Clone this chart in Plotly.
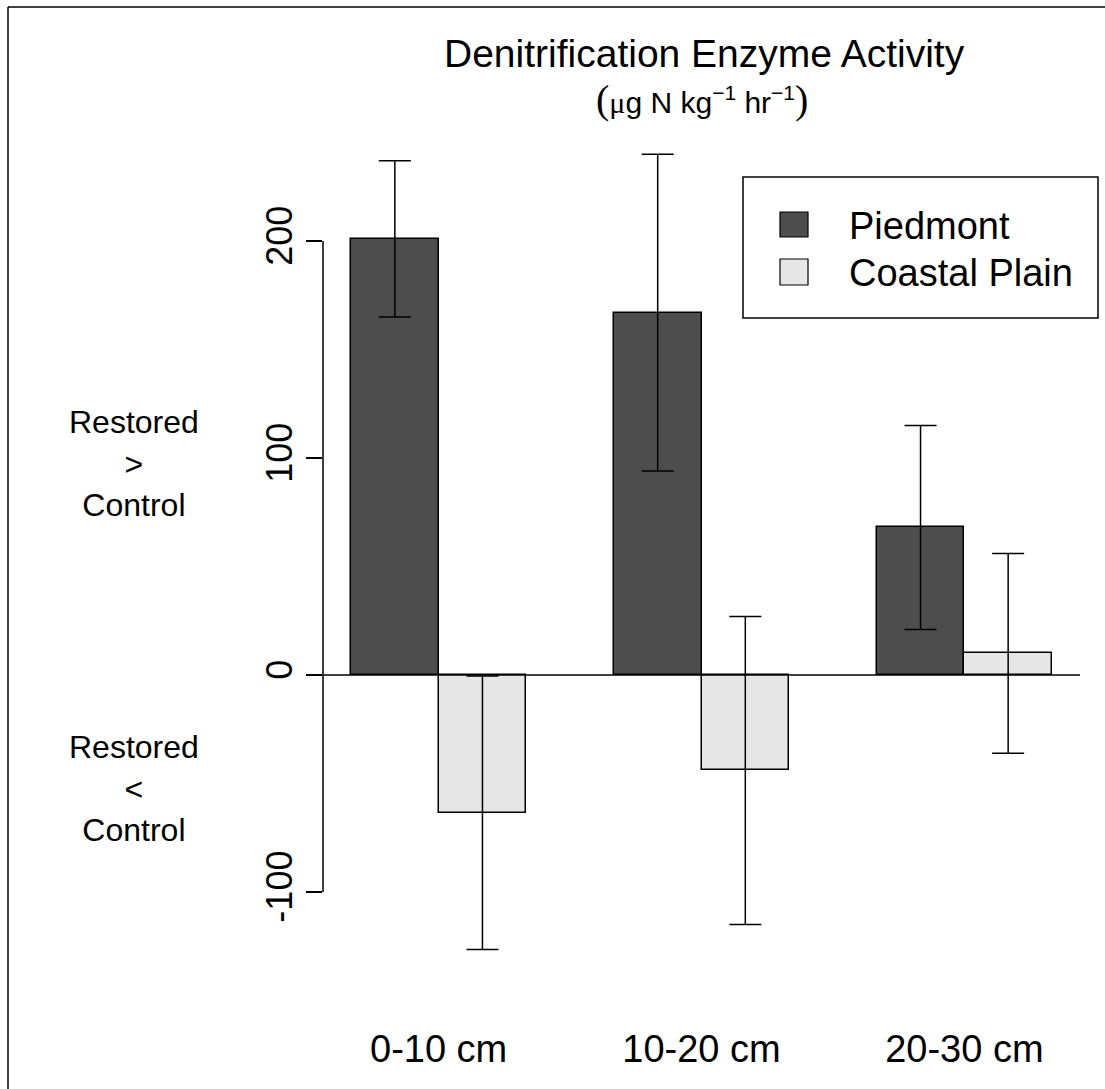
import plotly.graph_objects as go

# ---- data ----
depths = ["0-10 cm", "10-20 cm", "20-30 cm"]
series_names = ["Piedmont", "Coastal Plain"]
piedmont = [201, 167, 68]
piedmont_se = [36, 73, 47]
coastal = [-63.5, -44, 10]
coastal_se = [63, 71, 46]
y_tickvals = [-100, 0, 100, 200]
y_ticktext = ["-100", "0", "100", "200"]

# ---- layout helpers (R barplot beside=TRUE, space=c(0,1)) ----
W, H = 1105, 1089
PL, PT, PW, PH = 323, 133, 757, 846
def px(x):
    return (x - PL) / PW
def py(y):
    return (PT + PH - y) / PH

n = len(depths)
group_start = [1 + 3 * i for i in range(n)]          # left edge of each group in bar units
x_p = [g + 0.5 for g in group_start]
x_c = [g + 1.5 for g in group_start]
x_mid = [g + 1.0 for g in group_start]
xmin, xmax = group_start[0], group_start[-1] + 2
pad = 0.04 * (xmax - xmin)

FONT = "Liberation Sans, Arial, sans-serif"
DARK = "#4d4d4d"
LIGHT = "#e6e6e6"

fig = go.Figure()
for xs, ys, es, col, name in [(x_p, piedmont, piedmont_se, DARK, series_names[0]),
                              (x_c, coastal, coastal_se, LIGHT, series_names[1])]:
    fig.add_trace(go.Bar(
        x=xs, y=ys, width=1.0, name=name,
        marker=dict(color=col, line=dict(color="black", width=1.5)),
        error_y=dict(type="data", array=es, visible=True, color="black",
                     thickness=1.5, width=16),
        showlegend=False,
    ))

shapes = [
    # zero line
    dict(type="line", xref="paper", yref="y", x0=0, x1=1, y0=0, y1=0,
         line=dict(color="black", width=1.5)),
    # y axis line
    dict(type="line", xref="paper", yref="y", x0=0, x1=0,
         y0=y_tickvals[0], y1=y_tickvals[-1], line=dict(color="black", width=1.5)),
    # figure frame (top & left)
    dict(type="line", xref="paper", yref="paper", x0=px(8), x1=px(W), y0=py(7), y1=py(7),
         line=dict(color="black", width=1.5)),
    dict(type="line", xref="paper", yref="paper", x0=px(8), x1=px(8), y0=py(7), y1=py(H),
         line=dict(color="black", width=1.5)),
    # legend box
    dict(type="rect", xref="paper", yref="paper", x0=px(743), x1=px(1098),
         y0=py(318), y1=py(177), fillcolor="white", line=dict(color="black", width=1.5)),
    dict(type="rect", xref="paper", yref="paper", x0=px(780), x1=px(808),
         y0=py(237), y1=py(212), fillcolor=DARK, line=dict(color="black", width=1.2)),
    dict(type="rect", xref="paper", yref="paper", x0=px(780), x1=px(808),
         y0=py(285), y1=py(259), fillcolor=LIGHT, line=dict(color="black", width=1.2)),
]

annotations = [
    dict(text="Denitrification Enzyme Activity", x=px(704), y=py(53),
         xref="paper", yref="paper", showarrow=False, xanchor="center", yanchor="middle",
         font=dict(family=FONT, size=39, color="black")),
    dict(text=('<span style="font-family:Liberation Serif;font-size:40px">(</span>'
               '<span style="font-family:Liberation Serif">μ</span>g N kg<sup>−1</sup> hr<sup>−1</sup>'
               '<span style="font-family:Liberation Serif;font-size:40px">)</span>'),
         x=px(702), y=py(99), xref="paper", yref="paper", showarrow=False,
         xanchor="center", yanchor="middle",
         font=dict(family=FONT, size=30, color="black")),
    dict(text=series_names[0], x=px(847), y=py(226), xref="paper", yref="paper",
         showarrow=False, xanchor="left", yanchor="middle",
         font=dict(family=FONT, size=38, color="black")),
    dict(text=series_names[1], x=px(847), y=py(273), xref="paper", yref="paper",
         showarrow=False, xanchor="left", yanchor="middle",
         font=dict(family=FONT, size=38, color="black")),
    dict(text="Restored<br>><br>Control", x=px(134), y=py(464), xref="paper", yref="paper",
         showarrow=False, xanchor="center", yanchor="middle", align="center",
         font=dict(family=FONT, size=32, color="black")),
    dict(text="Restored<br><<br>Control", x=px(134), y=py(788), xref="paper", yref="paper",
         showarrow=False, xanchor="center", yanchor="middle", align="center",
         font=dict(family=FONT, size=32, color="black")),
]

fig.update_layout(
    width=W, height=H,
    margin=dict(l=PL, r=W - PL - PW, t=PT, b=H - PT - PH, pad=0),
    paper_bgcolor="white", plot_bgcolor="white",
    shapes=shapes, annotations=annotations,
    barmode="overlay", bargap=0,
    xaxis=dict(range=[xmin - pad, xmax + pad], tickmode="array", tickvals=x_mid,
               ticktext=depths, showgrid=False, zeroline=False, showline=False,
               ticks="", tickfont=dict(family=FONT, size=38, color="black"),
               ticklabelstandoff=44),
    yaxis=dict(range=[-140.1, 249.8], tickmode="array", tickvals=y_tickvals,
               ticktext=y_ticktext, tickangle=-90, ticks="outside", ticklen=16,
               tickwidth=1.5, tickcolor="black", showgrid=False, zeroline=False,
               showline=False, tickfont=dict(family=FONT, size=36, color="black"),
               ticklabelstandoff=0),
    font=dict(family=FONT, color="black"),
)

fig.write_html("out.html")
